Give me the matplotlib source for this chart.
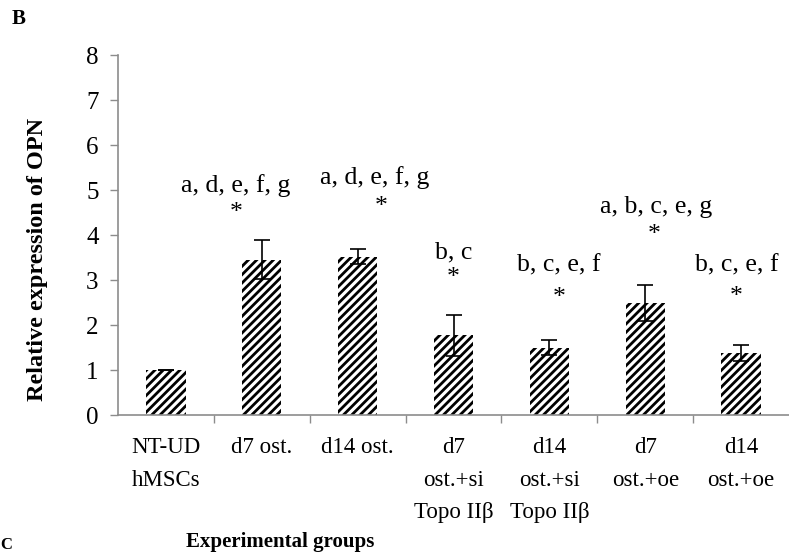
"""Relative OPN expression bar chart."""
import matplotlib

matplotlib.use("Agg")
import matplotlib.pyplot as plt
import numpy as np

groups = [
    "NT-UD\nhMSCs",
    "d7 ost.",
    "d14 ost.",
    "d7\nost.+si\nTopo IIβ",
    "d14\nost.+si\nTopo IIβ",
    "d7\nost.+oe",
    "d14\nost.+oe",
]
opn = [1.0, 3.45, 3.52, 1.77, 1.50, 2.49, 1.37]
opn_err = [0.0, 0.43, 0.16, 0.45, 0.16, 0.39, 0.18]

sig_labels = ["", "a, d, e, f, g", "a, d, e, f, g", "b, c", "b, c, e, f",
              "a, b, c, e, g", "b, c, e, f"]
sig_label_y = [None, 5.11, 5.27, 3.62, 3.33, 4.62, 3.33]
sig_label_dx = [0, -0.27, 0.18, 0, 0.10, 0.11, -0.05]
star_y = [None, 4.49, 4.62, 3.05, 2.60, 4.00, 2.62]
star_dx = [0, -0.27, 0.25, 0, 0.10, 0.09, -0.05]

plt.rcParams["font.family"] = ["Liberation Serif", "DejaVu Serif"]
plt.rcParams["hatch.linewidth"] = 2.0
plt.rcParams["hatch.color"] = "black"

fig = plt.figure(figsize=(7.89, 5.53), dpi=100)
ax = fig.add_axes([0.1496, 0.2495, 0.8504, 0.651])

x = np.arange(len(groups))
ax.bar(x, opn, width=0.41, color="white", edgecolor="black", linewidth=0,
       hatch="////", zorder=2)
ax.errorbar(x, opn, yerr=opn_err, fmt="none", ecolor="black",
            elinewidth=1.2, capsize=6, capthick=1.2, zorder=3)

for i in range(len(groups)):
    if sig_labels[i]:
        ax.text(i + sig_label_dx[i], sig_label_y[i], sig_labels[i],
                ha="center", va="center", fontsize=18.5)
        ax.text(i + star_dx[i], star_y[i], "*", ha="center", va="center",
                fontsize=18.5)

ax.set_xlim(-0.5, len(groups) - 0.5)
ax.set_ylim(0, 8)
ax.set_yticks(range(0, 9))
ax.set_xticks(x)
ax.set_xticklabels(groups, fontsize=16.5, linespacing=1.72, va="top")
ax.set_xticks(np.arange(0.5, len(groups) - 0.5), minor=True)
ax.tick_params(axis="x", which="major", length=0, pad=16)
ax.tick_params(axis="x", which="minor", length=6, color="#8c8c8c", width=1)
ax.tick_params(axis="y", labelsize=18, length=6, color="#8c8c8c", width=1,
               pad=8)

for side in ("top", "right"):
    ax.spines[side].set_visible(False)
for side in ("left", "bottom"):
    ax.spines[side].set_color("#8c8c8c")
    ax.spines[side].set_linewidth(1.2)

fig.text(0.048, 0.53, "Relative expression of OPN", rotation=90,
         ha="center", va="center", fontsize=17.5, fontweight="bold")
fig.text(0.355, 0.02, "Experimental groups", ha="center", va="center",
         fontsize=15, fontweight="bold")
fig.text(0.015, 0.965, "B", ha="left", va="center", fontsize=15,
         fontweight="bold")
fig.text(0.0, 0.0, "C", ha="left", va="bottom", fontsize=12,
         fontweight="bold")

fig.savefig("out.png", dpi=100)
